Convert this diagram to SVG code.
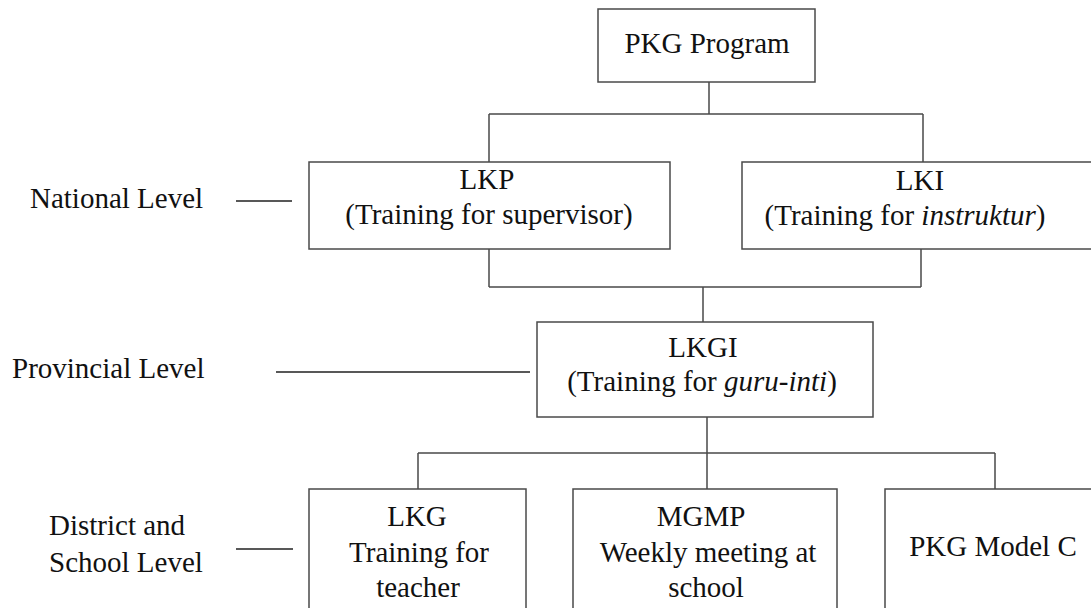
<svg xmlns="http://www.w3.org/2000/svg" width="1091" height="608" viewBox="0 0 1091 608">
<style>
.box{fill:#fff;stroke:#4a4a4a;stroke-width:1.5}
.ln{stroke:#4a4a4a;stroke-width:1.5;fill:none}
.lv{stroke:#222;stroke-width:1.5;fill:none}
</style>
<rect width="1091" height="608" fill="#fff"/>
<g id="connectors">
<path class="ln" d="M709,82V114M489,114H923M489,114V162M923,114V162"/>
<path class="ln" d="M489,249V287M921,249V287M489,287H921M703,287V322"/>
<path class="ln" d="M707,417V489M418,453H995M418,453V489M995,453V489"/>
<path class="lv" d="M236,201H292M276,372H530M236,549H293"/>
</g>
<g id="levels" fill="#111">
<text font-family="Liberation Serif" font-size="29" x="30" y="208">National Level</text>
<text font-family="Liberation Serif" font-size="29" x="12" y="378">Provincial Level</text>
<text font-family="Liberation Serif" font-size="29" x="49" y="535">District and</text>
<text font-family="Liberation Serif" font-size="29" x="49" y="572">School Level</text>
</g>
<g id="pkg" fill="#111">
<rect class="box" x="598" y="9" width="217" height="73"/>
<text font-family="Liberation Serif" font-size="29" text-anchor="middle" x="707" y="53">PKG Program</text>
</g>
<g id="lkp" fill="#111">
<rect class="box" x="309" y="162" width="361" height="87"/>
<text font-family="Liberation Serif" font-size="29" text-anchor="middle" x="487" y="189">LKP</text>
<text font-family="Liberation Serif" font-size="29" text-anchor="middle" x="489" y="224">(Training for supervisor)</text>
</g>
<g id="lki" fill="#111">
<rect class="box" x="742" y="162" width="360" height="87"/>
<text font-family="Liberation Serif" font-size="29" text-anchor="middle" x="920" y="190">LKI</text>
<text font-family="Liberation Serif" font-size="29" text-anchor="middle" x="905" y="225">(Training for <tspan font-style="italic">instruktur</tspan>)</text>
</g>
<g id="lkgi" fill="#111">
<rect class="box" x="537" y="322" width="336" height="95"/>
<text font-family="Liberation Serif" font-size="29" text-anchor="middle" x="703" y="357">LKGI</text>
<text font-family="Liberation Serif" font-size="29" text-anchor="middle" x="702" y="391">(Training for <tspan font-style="italic">guru-inti</tspan>)</text>
</g>
<g id="lkg" fill="#111">
<rect class="box" x="309" y="489" width="217" height="130"/>
<text font-family="Liberation Serif" font-size="29" text-anchor="middle" x="417" y="526">LKG</text>
<text font-family="Liberation Serif" font-size="29" text-anchor="middle" x="419" y="562">Training for</text>
<text font-family="Liberation Serif" font-size="29" text-anchor="middle" x="418" y="597">teacher</text>
</g>
<g id="mgmp" fill="#111">
<rect class="box" x="573" y="489" width="264" height="130"/>
<text font-family="Liberation Serif" font-size="29" text-anchor="middle" x="701" y="526">MGMP</text>
<text font-family="Liberation Serif" font-size="29" text-anchor="middle" x="708" y="562">Weekly meeting at</text>
<text font-family="Liberation Serif" font-size="29" text-anchor="middle" x="706" y="597">school</text>
</g>
<g id="model-c" fill="#111">
<rect class="box" x="885" y="489" width="220" height="130"/>
<text font-family="Liberation Serif" font-size="29" text-anchor="middle" x="993" y="556">PKG Model C</text>
</g>
</svg>
